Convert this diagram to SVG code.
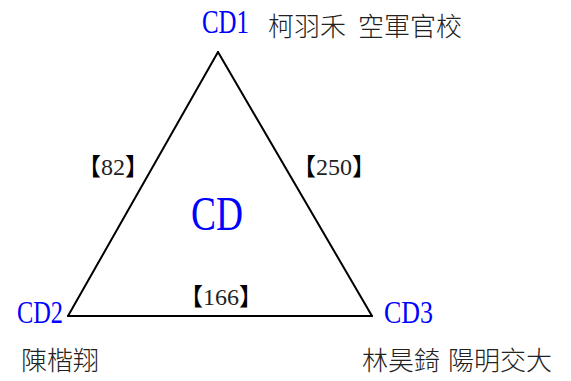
<svg xmlns="http://www.w3.org/2000/svg" width="571" height="381" viewBox="0 0 571 381">
<style>
.cd{font-family:'Liberation Serif',serif;fill:#0000ff;}
.cn{font-family:'Noto Sans CJK TC',sans-serif;font-size:26px;font-weight:300;fill:#222;}
.lbl{font-family:'Liberation Serif',serif;font-size:24px;fill:#222;}
.br{font-family:'Noto Sans CJK TC',sans-serif;fill:#000;}
.edge{stroke:#000;stroke-width:2;fill:none;stroke-linecap:round;}
</style>
<rect width="571" height="381" fill="#fff"/>
<g id="connectors">
<line class="edge" x1="218" y1="52" x2="68" y2="316"/>
<line class="edge" x1="218" y1="52" x2="372" y2="316"/>
<line class="edge" x1="68" y1="316" x2="372" y2="316"/>
<text class="lbl" x="77" y="175"><tspan class="br">【</tspan>82<tspan class="br">】</tspan></text>
<text class="lbl" x="292" y="175"><tspan class="br">【</tspan>250<tspan class="br">】</tspan></text>
<text class="lbl" x="179" y="305"><tspan class="br">【</tspan>166<tspan class="br">】</tspan></text>
</g>
<g id="CD">
<text class="cd" x="191" y="230" font-size="48" textLength="52" lengthAdjust="spacingAndGlyphs">CD</text>
</g>
<g id="CD1">
<text class="cd" x="202" y="33" font-size="33" textLength="47" lengthAdjust="spacingAndGlyphs">CD1</text>
<text class="cn" y="36"><tspan x="268">柯羽禾</tspan> <tspan x="358">空軍官校</tspan></text>
</g>
<g id="CD2">
<text class="cd" x="17" y="323" font-size="32" textLength="46" lengthAdjust="spacingAndGlyphs">CD2</text>
<text class="cn" x="21" y="370">陳楷翔</text>
</g>
<g id="CD3">
<text class="cd" x="384" y="323" font-size="32" textLength="49" lengthAdjust="spacingAndGlyphs">CD3</text>
<text class="cn" y="370"><tspan x="362">林昊錡</tspan> <tspan x="448">陽明交大</tspan></text>
</g>
</svg>
